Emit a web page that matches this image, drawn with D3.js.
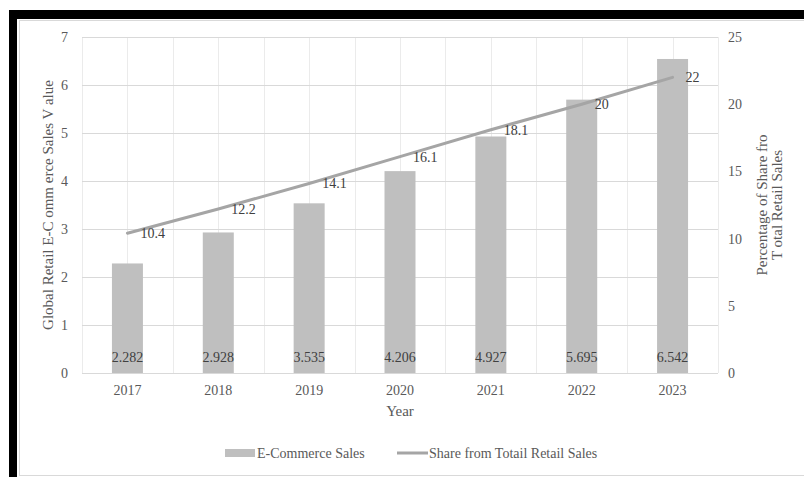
<!DOCTYPE html>
<html>
<head>
<meta charset="utf-8">
<script src="https://cdn.jsdelivr.net/npm/d3@7"></script>
<style>
  html, body { margin: 0; padding: 0; background: #fff; }
  svg { display: block; }
  text { font-family: "Liberation Serif", "Times New Roman", serif; }
</style>
</head>
<body>
<div id="chart"></div>
<script>
// Global retail e-commerce sales (trillion USD) and share of total retail sales (%)
const years = ["2017", "2018", "2019", "2020", "2021", "2022", "2023"];
const salesValues = [2.282, 2.928, 3.535, 4.206, 4.927, 5.695, 6.542];
const shareValues = [10.4, 12.2, 14.1, 16.1, 18.1, 20, 22];
const leftTicks = [0, 1, 2, 3, 4, 5, 6, 7];
const rightTicks = [0, 5, 10, 15, 20, 25];
const seriesNames = ["E-Commerce Sales", "Share from Totail Retail Sales"];

const W = 804, H = 477;
const plot = { left: 82, right: 718, top: 37, bottom: 373 };

const svg = d3.select("#chart").append("svg")
  .attr("width", W).attr("height", H);

svg.append("rect").attr("width", W).attr("height", H).attr("fill", "#fff");

// outer frame
svg.append("rect").attr("x", 9).attr("y", 10).attr("width", W - 9).attr("height", 9).attr("fill", "#000");
svg.append("rect").attr("x", 9).attr("y", 10).attr("width", 8).attr("height", H - 10).attr("fill", "#000");
svg.append("rect").attr("x", 19.5).attr("y", 20.5).attr("width", W).attr("height", 455)
  .attr("fill", "none").attr("stroke", "#d9d9d9").attr("stroke-width", 1);

const x = d3.scaleBand().domain(years).range([plot.left, plot.right]).padding(0);
const yL = d3.scaleLinear().domain([0, 7]).range([plot.bottom, plot.top]);
const yR = d3.scaleLinear().domain([0, 25]).range([plot.bottom, plot.top]);

// vertical gridlines at band edges and band centres
const vLines = [];
years.forEach(y => { vLines.push(x(y)); vLines.push(x(y) + x.bandwidth() / 2); });
vLines.push(plot.right);
svg.append("g").selectAll("line").data(vLines).join("line")
  .attr("x1", d => Math.round(d) + 0.5).attr("x2", d => Math.round(d) + 0.5)
  .attr("y1", plot.top).attr("y2", plot.bottom)
  .attr("stroke", "#ebebeb").attr("stroke-width", 1);

// horizontal gridlines
svg.append("g").selectAll("line").data(leftTicks).join("line")
  .attr("x1", plot.left).attr("x2", plot.right)
  .attr("y1", d => Math.round(yL(d)) + 0.5).attr("y2", d => Math.round(yL(d)) + 0.5)
  .attr("stroke", "#d9d9d9").attr("stroke-width", 1);

// bars
const barW = 31;
svg.append("g").selectAll("rect").data(salesValues).join("rect")
  .attr("x", (d, i) => x(years[i]) + x.bandwidth() / 2 - barW / 2)
  .attr("width", barW)
  .attr("y", d => yL(d))
  .attr("height", d => yL(0) - yL(d))
  .attr("fill", "#bfbfbf");

// bar value labels at the base
svg.append("g").selectAll("text").data(salesValues).join("text")
  .attr("x", (d, i) => x(years[i]) + x.bandwidth() / 2)
  .attr("y", 357).attr("dy", "0.35em")
  .attr("text-anchor", "middle")
  .attr("font-size", 14).attr("fill", "#404040")
  .text(d => d3.format(".3f")(d));

// share line
const line = d3.line()
  .x((d, i) => x(years[i]) + x.bandwidth() / 2)
  .y(d => yR(d));
svg.append("path").datum(shareValues)
  .attr("d", line)
  .attr("fill", "none").attr("stroke", "#a5a5a5").attr("stroke-width", 3)
  .attr("stroke-linecap", "round");

svg.append("g").selectAll("text").data(shareValues).join("text")
  .attr("x", (d, i) => x(years[i]) + x.bandwidth() / 2 + 13)
  .attr("y", d => yR(d)).attr("dy", "0.35em")
  .attr("font-size", 14).attr("fill", "#404040")
  .text(d => d);

// axes
const axisL = d3.axisLeft(yL).tickValues(leftTicks).tickFormat(d3.format("d")).tickSize(0).tickPadding(14);
const gL = svg.append("g").attr("transform", `translate(${plot.left},0)`).call(axisL);
const axisR = d3.axisRight(yR).tickValues(rightTicks).tickFormat(d3.format("d")).tickSize(0).tickPadding(10);
const gR = svg.append("g").attr("transform", `translate(${plot.right},0)`).call(axisR);
const axisB = d3.axisBottom(x).tickSize(0).tickPadding(12);
const gB = svg.append("g").attr("transform", `translate(0,${plot.bottom})`).call(axisB);
[gL, gR, gB].forEach(g => {
  g.select(".domain").remove();
  g.selectAll("text").attr("font-family", "Liberation Serif, serif")
    .attr("font-size", 14).attr("fill", "#595959");
});
svg.append("line")
  .attr("x1", plot.left).attr("x2", plot.right)
  .attr("y1", plot.bottom + 0.5).attr("y2", plot.bottom + 0.5)
  .attr("stroke", "#d9d9d9");

// axis titles
svg.append("text")
  .attr("transform", `translate(${(plot.left + plot.right) / 2},411)`)
  .attr("dy", "0.35em").attr("text-anchor", "middle")
  .attr("font-size", 15).attr("fill", "#595959").text("Year");

svg.append("text")
  .attr("transform", `translate(48,${(plot.top + plot.bottom) / 2}) rotate(-90)`)
  .attr("dy", "0.35em").attr("text-anchor", "middle")
  .attr("font-size", 15).attr("fill", "#595959")
  .text("Global Retail E-C omm erce Sales V alue");

const rt = svg.append("text")
  .attr("transform", `translate(769,${(plot.top + plot.bottom) / 2}) rotate(-90)`)
  .attr("text-anchor", "middle")
  .attr("font-size", 15).attr("fill", "#595959");
rt.append("tspan").attr("x", 0).attr("dy", "-0.15em").text("Percentage of Share fro");
rt.append("tspan").attr("x", 0).attr("dy", "1.0em").text("T otal Retail Sales");

// legend
const lg = svg.append("g");
lg.append("rect").attr("x", 225).attr("y", 449).attr("width", 30).attr("height", 8).attr("fill", "#bfbfbf");
lg.append("text").attr("x", 257).attr("y", 453).attr("dy", "0.35em")
  .attr("font-size", 14).attr("fill", "#595959").text(seriesNames[0]);
lg.append("line").attr("x1", 397).attr("x2", 428).attr("y1", 453).attr("y2", 453)
  .attr("stroke", "#a5a5a5").attr("stroke-width", 3);
lg.append("text").attr("x", 429).attr("y", 453).attr("dy", "0.35em")
  .attr("font-size", 14).attr("fill", "#595959").text(seriesNames[1]);
</script>
</body>
</html>
